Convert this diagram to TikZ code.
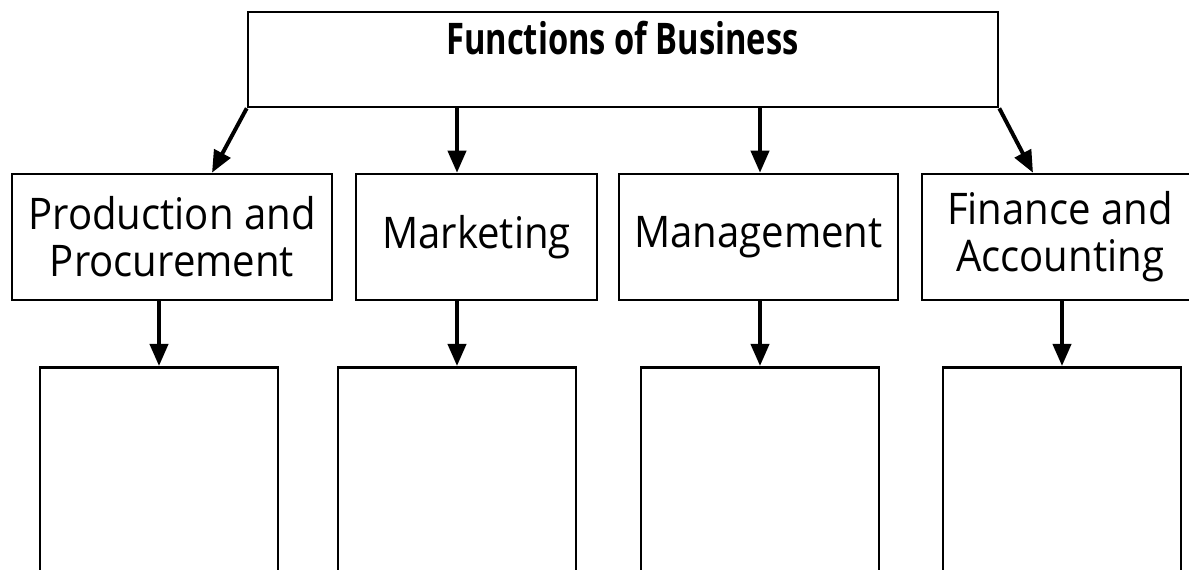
\documentclass[tikz,border=0pt]{standalone}
\usepackage{fontspec}
\usepackage{tikz}
\usetikzlibrary{arrows.meta}
\newfontfamily\labelfont[FakeStretch=0.92]{Open Sans}
\newfontfamily\titlefont[FakeStretch=0.75]{Open Sans}
\tikzset{
  fnbox/.style={draw,line width=1.8pt,minimum height=3.15cm,align=center,
    font=\labelfont\fontsize{31}{33.4}\selectfont},
  notebox/.style={draw,line width=1.8pt,minimum width=5.95cm,minimum height=6cm,anchor=north},
  arr/.style={line width=2.8pt,-{Triangle[length=5.5mm,width=4.5mm]}}
}
\begin{document}
\begin{tikzpicture}
      \fill[white] (0,0) rectangle (29.725,14.225);
      \useasboundingbox (0,0) rectangle (29.725,14.225);
      % top box
      \node[draw,line width=1.8pt,minimum width=18.75cm,minimum height=2.375cm] (biz) at (15.575,12.7375) {};
      \node[anchor=base,font=\titlefont\bfseries\fontsize{31}{33.4}\selectfont] (biztitle) at (15.5625,12.85) {Functions of Business};
      % the four functions
      \node[fnbox,minimum width=8cm] (prod) at (4.3,8.3) {Production and\\Procurement};
      \node[fnbox,minimum width=6.025cm] (mkt) at (11.9125,8.3) {Marketing};
      \node[fnbox,minimum width=6.975cm] (mgmt) at (18.9625,8.3) {Management};
      \node[fnbox,minimum width=6.9cm] (fin) at (26.5,8.3) {Finance and\\Accounting};
      % empty boxes below
      \node[notebox] (prodnotes) at (3.975,5.075) {};
      \node[notebox] (mktnotes) at (11.425,5.075) {};
      \node[notebox] (mgmtnotes) at (19.0,5.075) {};
      \node[notebox] (finnotes) at (26.55,5.075) {};
      \draw[arr] (biz.south west) -- ([xshift=1cm]prod.north);
      \draw[arr] (mktnotes.north |- biz.south) -- (mktnotes.north |- mkt.north);
      \draw[arr] (mgmtnotes.north |- biz.south) -- (mgmtnotes.north |- mgmt.north);
      \draw[arr] (biz.south east) -- ([xshift=-0.675cm]fin.north);
      \draw[arr] (prodnotes.north |- prod.south) -- (prodnotes.north);
      \draw[arr] (mktnotes.north |- mkt.south) -- (mktnotes.north);
      \draw[arr] (mgmtnotes.north |- mgmt.south) -- (mgmtnotes.north);
      \draw[arr] (finnotes.north |- fin.south) -- (finnotes.north);
\end{tikzpicture}
\end{document}
